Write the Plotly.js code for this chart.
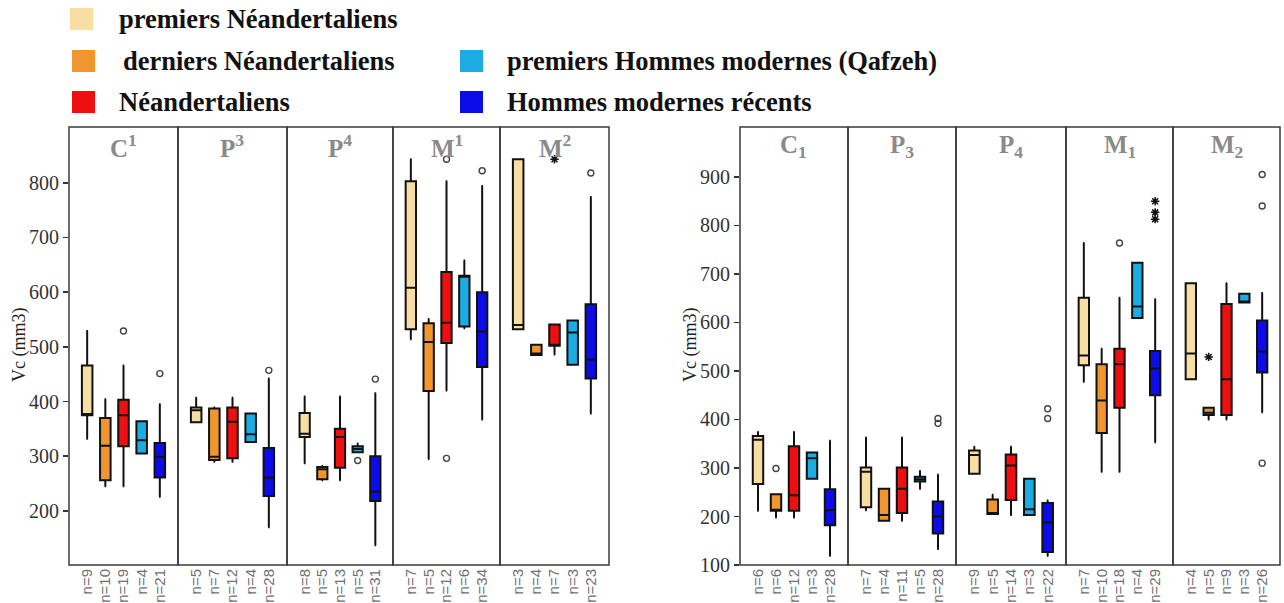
<!DOCTYPE html>
<html>
<head>
<meta charset="utf-8">
<script src="https://cdn.plot.ly/plotly-3.0.1.min.js"></script>
<style>html,body{margin:0;padding:0;background:#fff;}#chart{width:1284px;height:603px;}</style>
</head>
<body>
<div id="chart"></div>
<script>
// ---------- DATA ----------
const groups = ['premiers Néandertaliens', 'derniers Néandertaliens', 'Néandertaliens',
                'premiers Hommes modernes (Qafzeh)', 'Hommes modernes récents'];
const groupColors = ['#F9DEA4', '#F1952E', '#EE1010', '#1CACE4', '#0C0CE8'];

const upperTeeth = ['C<sup>1</sup>', 'P<sup>3</sup>', 'P<sup>4</sup>', 'M<sup>1</sup>', 'M<sup>2</sup>'];
const lowerTeeth = ['C<sub>1</sub>', 'P<sub>3</sub>', 'P<sub>4</sub>', 'M<sub>1</sub>', 'M<sub>2</sub>'];

const upperN = [[9, 10, 19, 4, 21], [5, 7, 12, 4, 28], [8, 5, 13, 5, 31], [7, 5, 12, 6, 34], [3, 4, 7, 3, 23]];
const lowerN = [[6, 6, 12, 3, 28], [7, 4, 11, 5, 28], [9, 5, 14, 3, 22], [7, 10, 18, 4, 29], [4, 5, 9, 3, 26]];

// each row: [lower whisker, Q1, median, Q3, upper whisker] per group
const upperC1 = [[332, 375, 377, 466, 529], [245, 256, 319, 370, 404], [245, 318, 375, 403, 466], [305, 305, 329, 364, 364], [226, 261, 299, 324, 395]];
const upperP3 = [[362, 362, 384, 389, 407], [290, 293, 299, 387, 389], [290, 296, 363, 389, 407], [326, 326, 340, 378, 378], [170, 227, 261, 315, 442]];
const upperP4 = [[287, 335, 341, 379, 409], [256, 258, 276, 280, 282], [256, 279, 335, 350, 409], [307, 307, 313, 318, 323], [137, 218, 235, 300, 415]];
const upperM1 = [[514, 532, 608, 803, 843], [295, 419, 509, 543, 551], [420, 507, 544, 637, 803], [534, 537, 628, 630, 658], [367, 463, 528, 600, 794]];
const upperM2 = [[532, 532, 540, 843, 843], [485, 485, 488, 504, 504], [486, 502, 503, 541, 541], [467, 467, 526, 548, 548], [378, 442, 477, 578, 774]];

const lowerC1 = [[212, 267, 358, 366, 374], [198, 212, 213, 246, 246], [198, 212, 244, 345, 374], [278, 278, 320, 332, 332], [119, 182, 213, 256, 356]];
const lowerP3 = [[213, 219, 292, 301, 363], [191, 191, 203, 257, 257], [191, 207, 257, 301, 363], [257, 272, 277, 282, 294], [133, 165, 200, 231, 286]];
const lowerP4 = [[288, 288, 327, 336, 344], [205, 205, 207, 235, 245], [203, 234, 305, 328, 344], [203, 203, 215, 278, 278], [119, 127, 188, 228, 233]];
const lowerM1 = [[478, 512, 532, 651, 764], [292, 372, 439, 514, 546], [292, 424, 514, 546, 651], [609, 609, 633, 723, 723], [353, 450, 505, 541, 648]];
const lowerM2 = [[483, 483, 536, 681, 681], [400, 409, 414, 424, 424], [400, 409, 483, 638, 681], [641, 641, 643, 659, 659], [415, 497, 540, 604, 661]];

// outliers: [facet index, group index, value]
const upperCircles = [[0, 2, 529], [0, 4, 451], [1, 4, 457], [2, 3, 292], [2, 4, 441], [3, 2, 843], [3, 2, 296], [3, 4, 822], [4, 4, 818]];
const upperStars = [[4, 2, 843]];
const lowerCircles = [[0, 1, 299], [1, 4, 402], [1, 4, 392], [2, 4, 422], [2, 4, 402], [3, 2, 764], [4, 4, 905], [4, 4, 840], [4, 4, 310]];
const lowerStars = [[3, 4, 850], [3, 4, 827], [3, 4, 813], [4, 1, 529]];

const upperTicks = [200, 300, 400, 500, 600, 700, 800];
const lowerTicks = [100, 200, 300, 400, 500, 600, 700, 800, 900];

// ---------- LAYOUT GEOMETRY ----------
const W = 1284, H = 603;
const px = v => v / W;
const py = v => 1 - v / H;
const leftEdges = [69, 178, 287, 393, 500, 609];
const rightEdges = [740, 848, 956, 1066, 1173, 1280];
const yTop = 127, yBot = 565;

const serif = 'Liberation Serif, Times New Roman, serif';
const sans = 'Liberation Sans, Arial, sans-serif';

const traces = [];
const layout = {
  width: W, height: H,
  margin: {l: 0, r: 0, t: 0, b: 0},
  paper_bgcolor: '#fff', plot_bgcolor: '#fff',
  showlegend: false,
  boxmode: 'overlay',
  shapes: [], annotations: []
};

function axName(i) { return i === 1 ? 'x' : 'x' + i; }

function buildPanel(statsList, nList, titles, circles, stars, edges, yName, yLayoutKey, yRange, ticks, offset) {
  for (let f = 0; f < 5; f++) {
    const idx = offset + f + 1;
    const xa = axName(idx);
    const xKey = idx === 1 ? 'xaxis' : 'xaxis' + idx;
    layout[xKey] = {
      domain: [px(edges[f]), px(edges[f + 1])],
      anchor: yName,
      range: [-1, 5],
      tickmode: 'array',
      tickvals: [0, 1, 2, 3, 4],
      ticktext: nList[f].map(n => 'n=' + n),
      tickangle: -90,
      ticks: '',
      showgrid: false, zeroline: false, showline: false,
      tickfont: {family: sans, size: 15, color: '#707070'},
      fixedrange: true
    };
    const stats = statsList[f];
    for (let g = 0; g < 5; g++) {
      const s = stats[g];
      traces.push({
        type: 'box', xaxis: xa, yaxis: yName,
        x: [g], lowerfence: [s[0]], q1: [s[1]], median: [s[2]], q3: [s[3]], upperfence: [s[4]],
        width: 0.58, whiskerwidth: 0.15,
        fillcolor: groupColors[g],
        line: {color: '#111', width: 2},
        boxpoints: false, name: groups[g], hoverinfo: 'y'
      });
    }
    const c = circles.filter(o => o[0] === f);
    if (c.length) traces.push({
      type: 'scatter', mode: 'markers', xaxis: xa, yaxis: yName,
      x: c.map(o => o[1]), y: c.map(o => o[2]),
      marker: {symbol: 'circle-open', size: 6, color: '#444', line: {width: 1.4}}
    });
    const st = stars.filter(o => o[0] === f);
    if (st.length) traces.push({
      type: 'scatter', mode: 'markers', xaxis: xa, yaxis: yName,
      x: st.map(o => o[1]), y: st.map(o => o[2]),
      marker: {symbol: 'asterisk-open', size: 7, color: '#111', line: {width: 1.5}}
    });
    // facet frame
    layout.shapes.push({
      type: 'rect', xref: xa + ' domain', yref: yName + ' domain',
      x0: 0, x1: 1, y0: 0, y1: 1,
      line: {color: '#3a3a3a', width: 1.5}, fillcolor: 'rgba(0,0,0,0)'
    });
    // facet title
    layout.annotations.push({
      xref: xa + ' domain', yref: 'paper', x: 0.5, y: py(146),
      xanchor: 'center', yanchor: 'middle', showarrow: false,
      text: '<b>' + titles[f] + '</b>',
      font: {family: serif, size: 25, color: '#8a8a8a'}
    });
  }
  layout[yLayoutKey] = {
    domain: [py(yBot), py(yTop)],
    anchor: axName(offset + 1),
    range: yRange,
    tickmode: 'array', tickvals: ticks,
    ticks: 'outside', ticklen: 5, tickwidth: 1.5, tickcolor: '#333',
    showgrid: false, zeroline: false, showline: false,
    tickfont: {family: serif, size: 20, color: '#333'},
    fixedrange: true
  };
}

buildPanel([upperC1, upperP3, upperP4, upperM1, upperM2], upperN, upperTeeth, upperCircles, upperStars,
  leftEdges, 'y', 'yaxis', [101, 902], upperTicks, 0);
buildPanel([lowerC1, lowerP3, lowerP4, lowerM1, lowerM2], lowerN, lowerTeeth, lowerCircles, lowerStars,
  rightEdges, 'y2', 'yaxis2', [100, 1003], lowerTicks, 5);

// y titles
[[20, 345], [691, 345]].forEach(p => layout.annotations.push({
  xref: 'paper', yref: 'paper', x: px(p[0]), y: py(p[1]),
  xanchor: 'center', yanchor: 'middle', showarrow: false, textangle: -90,
  text: 'Vc (mm3)', font: {family: serif, size: 18, color: '#222'}
}));

// legend (drawn manually to match layout)
const legendPos = [[70, 19, 117], [72, 61, 121], [72, 102, 117], [460, 61, 505], [460, 102, 505]];
groups.forEach((g, i) => {
  const [sx, cy, tx] = legendPos[i];
  layout.shapes.push({
    type: 'rect', xref: 'paper', yref: 'paper',
    x0: px(sx), x1: px(sx + 23), y0: py(cy + 11), y1: py(cy - 11),
    line: {width: 0}, fillcolor: groupColors[i]
  });
  layout.annotations.push({
    xref: 'paper', yref: 'paper', x: px(tx), y: py(cy),
    xanchor: 'left', yanchor: 'middle', showarrow: false,
    text: '<b>' + g + '</b>', font: {family: serif, size: 26.5, color: '#111'}
  });
});

Plotly.newPlot('chart', traces, layout, {staticPlot: true, displayModeBar: false});
</script>
</body>
</html>
